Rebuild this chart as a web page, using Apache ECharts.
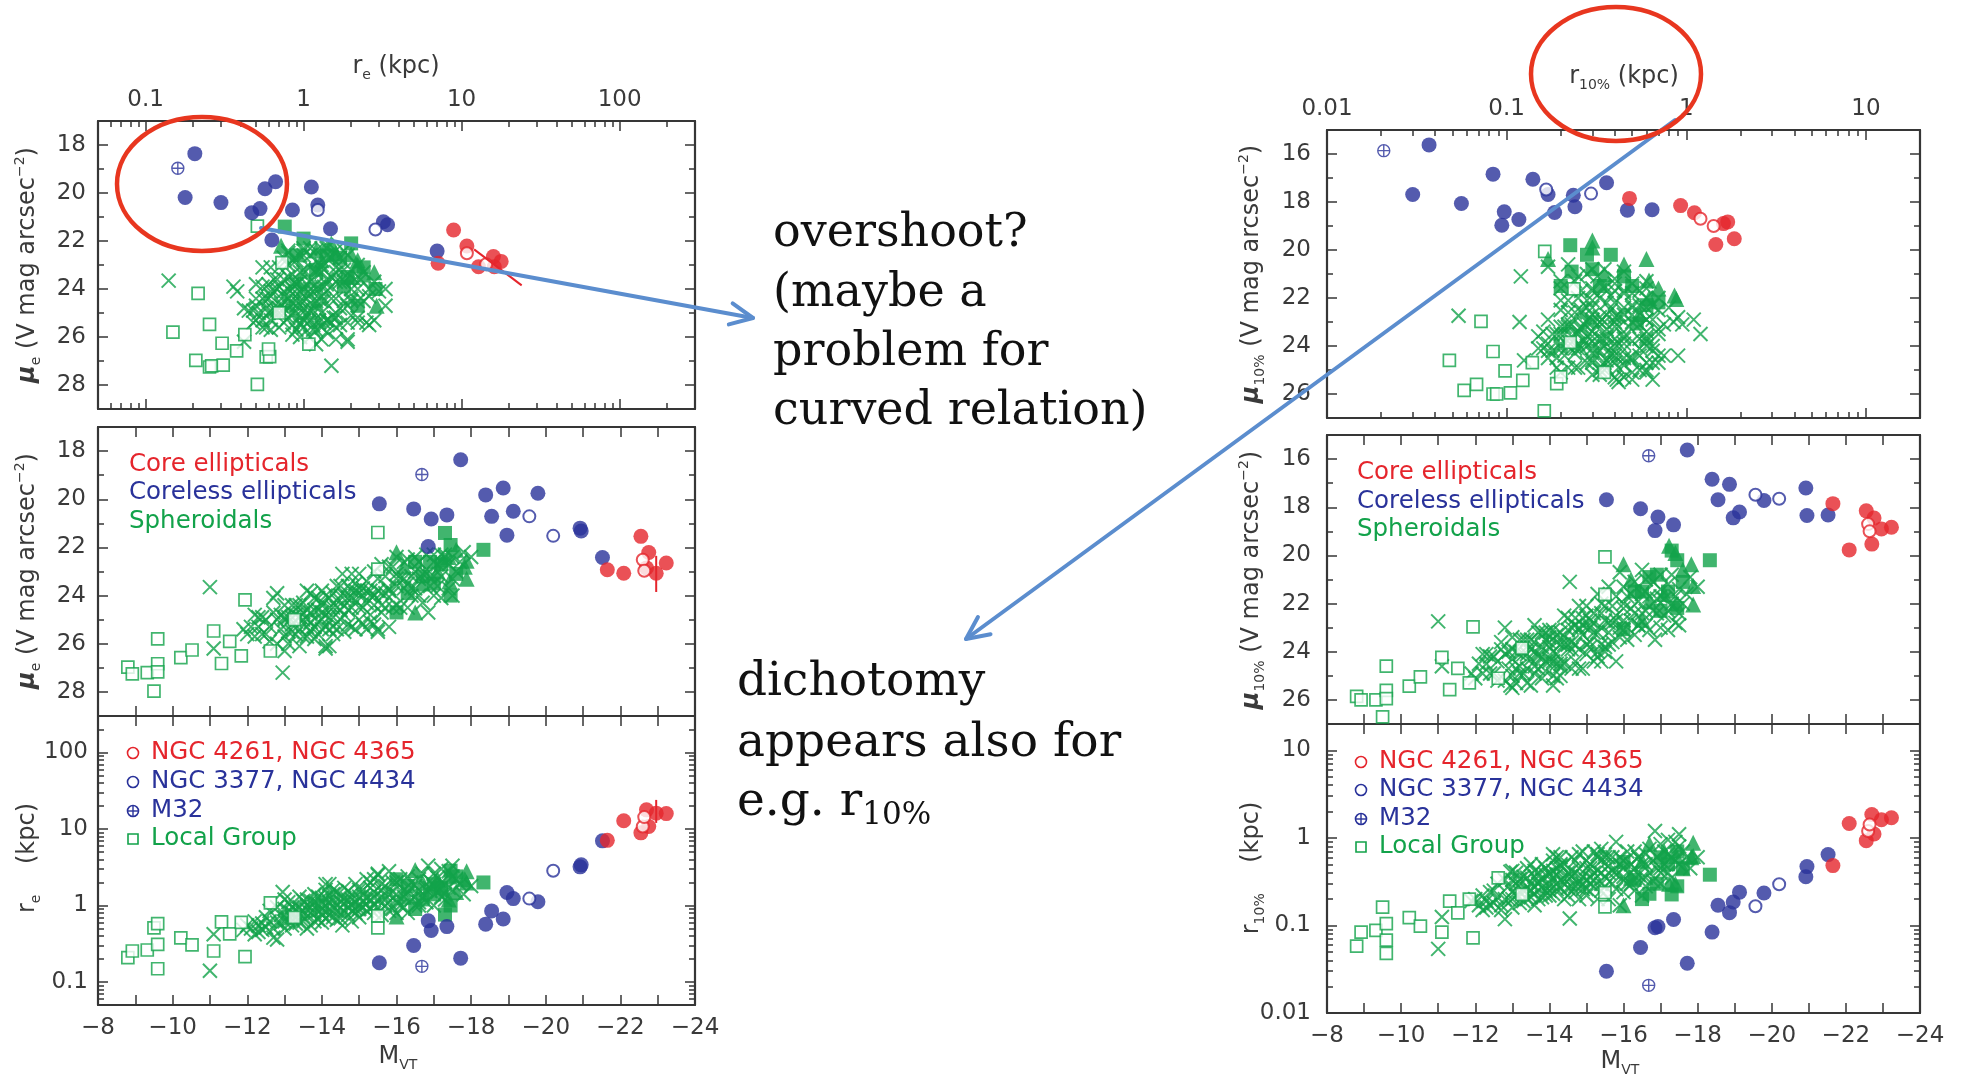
<!DOCTYPE html>
<html>
<head>
<meta charset="utf-8">
<title>Surface brightness and size scalings of ellipticals and spheroidals</title>
<script src="https://cdn.jsdelivr.net/npm/echarts@6.0.0/dist/echarts.min.js"></script>
<style>
  html, body { margin: 0; padding: 0; background: #ffffff; }
  #chart { width: 1963px; height: 1077px; }
</style>
</head>
<body>
<div id="chart"></div>
<script>
// ---------------------------------------------------------------------------
// Tick values
// ---------------------------------------------------------------------------
const reTicks   = [0.1, 1, 10, 100];
const r10Ticks  = [0.01, 0.1, 1, 10];
const mueTicks  = [18, 20, 22, 24, 26, 28];
const mu10Ticks = [16, 18, 20, 22, 24, 26];
const mvTicks   = [-24, -22, -20, -18, -16, -14, -12, -10, -8];

// ---------------------------------------------------------------------------
// Galaxy samples: absolute magnitude M_VT, effective radius r_e (kpc),
// surface brightness at r_e, radius enclosing 10% of light, and mu at r_10%
// ---------------------------------------------------------------------------

// Core ellipticals (filled red)
const coreMv   = [-21.65, -22.09, -22.55, -22.76, -22.96, -23.23, -22.70];
const coreRe   = [7.1, 12.8, 8.9, 10.8, 16.1, 15.9, 17.8];
const coreMue  = [22.93, 23.07, 21.54, 22.21, 23.07, 22.65, 22.85];
const coreR10  = [0.483, 1.46, 0.93, 1.11, 1.61, 1.70, 1.85];
const coreMu10 = [17.85, 19.77, 18.15, 18.45, 18.90, 18.83, 19.53];

// NGC 4261, NGC 4365 (open red)
const coreOpenMv   = [-22.60, -22.64];
const coreOpenRe   = [10.8, 14.3];
const coreOpenMue  = [22.51, 22.97];
const coreOpenR10  = [1.20, 1.42];
const coreOpenMu10 = [18.70, 19.00];

// Error bar on one core elliptical
const errMv  = [-22.96, -22.96];
const errRe  = [12, 24];
const errMue = [22.35, 23.85];

// Coreless ellipticals (filled navy)
const corelessMv   = [-15.54, -16.46, -16.85, -16.93, -17.35, -17.72, -18.39, -18.55,
                      -18.86, -18.96, -19.13, -19.79, -20.92, -20.95, -21.52];
const corelessRe   = [0.178, 0.30, 0.63, 0.47, 0.53, 0.205, 0.57, 0.85,
                      0.665, 1.48, 1.23, 1.12, 3.2, 3.4, 7.0];
const corelessMue  = [20.19, 20.40, 21.96, 20.82, 20.65, 18.36, 19.82, 20.71,
                      19.53, 21.49, 20.50, 19.75, 21.20, 21.32, 22.42];
const corelessR10  = [0.030, 0.056, 0.094, 0.097, 0.117, 0.037, 0.084, 0.17,
                      0.14, 0.185, 0.24, 0.235, 0.36, 0.47, 0.645];
const corelessMu10 = [17.69, 18.06, 18.97, 18.41, 18.73, 15.62, 16.84, 17.69,
                      17.05, 18.44, 18.20, 17.72, 17.20, 18.34, 18.32];

// NGC 3377, NGC 4434 (open navy)
const corelessOpenMv   = [-19.56, -20.20];
const corelessOpenRe   = [1.23, 2.85];
const corelessOpenMue  = [20.71, 21.52];
const corelessOpenR10  = [0.166, 0.295];
const corelessOpenMu10 = [17.48, 17.65];

// M32
const m32Mv   = [-16.68];
const m32Re   = [0.16];
const m32Mue  = [18.97];
const m32R10  = [0.0207];
const m32Mu10 = [15.86];

// Spheroidals, filled squares
const sphSqMv   = [-16.0, -16.3, -17.3, -17.45, -17.45, -18.33, -16.7, -17.2, -16.9, -17.6, -16.5, -17.0];
const sphSqRe   = [2.2, 1.8, 0.76, 1.0, 2.85, 2.0, 1.2, 1.7, 1.4, 2.4, 0.9, 1.9];
const sphSqMue  = [24.7, 23.9, 21.4, 21.9, 24.0, 22.1, 23.2, 22.7, 22.6, 23.1, 22.6, 23.5];
const sphSqR10  = [0.53, 0.33, 0.226, 0.28, 0.70, 0.38, 0.23, 0.50, 0.30, 0.45, 0.20, 0.60];
const sphSqMu10 = [23.06, 21.5, 19.8, 20.2, 22.18, 20.2, 20.9, 21.5, 20.8, 21.1, 21.5, 22.3];

// Spheroidals, filled triangles
const sphTriMv   = [-16.0, -16.5, -17.42, -17.88, -17.88, -17.83, -17.23, -16.7, -17.1, -17.6, -16.2, -17.4];
const sphTriRe   = [0.72, 2.9, 2.4, 2.8, 2.0, 2.2, 1.6, 2.0, 2.2, 1.5, 1.3, 1.2];
const sphTriMue  = [22.2, 24.7, 23.4, 23.3, 22.55, 22.8, 22.5, 23.5, 23.0, 22.1, 22.8, 22.4];
const sphTriR10  = [0.17, 0.55, 0.62, 0.88, 0.62, 0.60, 0.30, 0.86, 0.70, 0.45, 0.35, 0.30];
const sphTriMu10 = [20.37, 22.67, 22.0, 22.04, 21.27, 20.37, 19.6, 21.9, 21.6, 20.6, 21.0, 19.9];

// Spheroidals, crosses
const crossMv = [
  -11.9, -12.0, -12.1, -12.2, -12.3, -12.4, -12.5, -12.5, -12.7, -12.6,
  -12.8, -12.9, -12.95, -13.0, -13.0, -13.1, -13.1, -13.2, -13.2, -13.3,
  -13.3, -13.4, -13.4, -13.5, -13.5, -13.6, -13.6, -13.7, -13.7, -13.8,
  -13.8, -13.9, -13.9, -14.0, -14.0, -14.0, -14.1, -14.1, -14.2, -14.2,
  -14.3, -14.3, -14.4, -14.4, -14.5, -14.55, -14.6, -14.6, -14.7, -14.7,
  -14.8, -14.8, -14.9, -14.9, -15.0, -15.0, -15.1, -15.1, -15.2, -15.2,
  -15.3, -15.3, -15.4, -15.4, -15.5, -15.6, -15.6, -15.7, -15.8, -15.8,
  -15.9, -16.0, -16.0, -16.1, -16.2, -16.3, -16.3, -16.4, -16.5, -16.5,
  -16.6, -16.7, -16.85, -16.9, -17.0, -17.0, -17.1, -17.2, -17.3, -17.4,
  -17.5, -17.6, -17.8, -18.0, -11.0, -11.1, -17.5, -15.5, -14.1, -12.8,
  -13.0, -13.2, -13.4, -13.5, -13.6, -13.7, -13.8, -13.9, -14.0, -14.0,
  -14.1, -14.2, -14.3, -14.3, -14.4, -14.5, -14.5, -14.6, -14.7, -14.8,
  -14.9, -15.0, -15.0, -15.1, -15.2, -15.3, -15.4, -15.5, -15.6, -15.7,
  -15.8, -15.9, -16.0, -16.2, -16.4, -16.6, -16.8, -17.0, -17.3, -12.3,
  -12.2, -12.4, -12.6, -12.7, -12.8, -12.9, -13.0, -13.1, -13.2, -13.3,
  -13.4, -13.5, -13.6, -13.7, -13.8, -13.9, -14.0, -14.1, -14.2, -14.3,
  -14.4, -14.5, -14.6, -14.7, -14.8, -14.9, -15.0, -15.1, -15.2, -15.3,
  -15.4, -15.5, -15.6, -15.7, -15.8, -15.9, -16.0, -16.1, -16.2, -16.3,
  -16.4, -16.5, -16.6, -16.7, -16.8, -16.9, -17.0, -17.1, -17.2, -17.4,
  -17.5, -17.7, -13.0, -13.6, -14.2, -14.8, -15.4, -16.0, -16.6, -17.2
];
const crossRe = [
  0.48, 0.55, 0.50, 0.62, 0.45, 0.58, 0.70, 0.52, 0.38, 0.85,
  0.60, 0.75, 1.50, 0.50, 0.90, 0.65, 1.10, 0.80, 0.55, 1.00,
  0.70, 1.30, 0.60, 0.85, 1.15, 0.72, 1.20, 0.95, 0.55, 1.40,
  0.80, 1.05, 0.65, 1.25, 0.90, 0.60, 1.60, 1.00, 0.75, 1.35,
  0.95, 1.15, 0.65, 1.50, 1.10, 0.55, 0.85, 1.70, 1.20, 0.75,
  1.40, 1.00, 0.90, 1.90, 1.30, 0.70, 1.10, 1.60, 0.85, 2.20,
  1.20, 0.90, 1.50, 1.00, 2.50, 1.30, 0.75, 1.80, 1.10, 2.80,
  0.90, 1.40, 2.00, 1.00, 1.60, 2.40, 0.80, 1.20, 1.80, 1.00,
  2.20, 1.30, 3.30, 1.70, 1.00, 2.60, 1.50, 2.00, 1.20, 2.80,
  1.60, 2.20, 1.40, 1.80, 0.14, 0.42, 3.30, 2.60, 1.90, 0.36,
  0.70, 0.95, 0.78, 0.62, 1.00, 0.80, 1.10, 0.85, 1.05, 0.75,
  1.25, 0.90, 0.70, 1.40, 1.00, 0.80, 1.30, 1.05, 0.95, 1.20,
  0.80, 1.00, 1.60, 0.95, 1.30, 1.70, 0.80, 1.20, 1.60, 1.00,
  1.40, 2.00, 1.10, 1.30, 2.00, 1.10, 1.60, 1.80, 1.40, 0.55,
  0.42, 0.48, 0.62, 0.50, 0.95, 0.58, 0.62, 0.85, 0.68, 0.58,
  0.95, 0.72, 0.88, 1.15, 0.62, 1.30, 0.80, 0.68, 1.10, 1.60,
  0.85, 0.68, 1.25, 1.55, 0.85, 1.10, 0.90, 1.35, 1.05, 2.00,
  1.25, 0.95, 1.90, 1.35, 0.85, 1.50, 1.20, 2.20, 0.95, 1.50,
  1.70, 1.30, 1.60, 2.60, 1.10, 2.10, 1.40, 2.30, 1.30, 1.70,
  2.40, 1.90, 1.20, 0.50, 1.90, 0.62, 2.20, 0.80, 1.00, 3.00
];
const crossMue = [
  25.4, 25.6, 25.3, 25.7, 24.9, 25.6, 25.6, 25.0, 24.1, 25.9,
  25.0, 25.4, 27.2, 24.4, 25.7, 24.9, 26.0, 25.2, 24.4, 25.6,
  24.8, 26.1, 24.4, 25.0, 25.7, 24.6, 25.7, 25.1, 23.9, 25.8,
  24.6, 25.1, 24.1, 25.4, 24.7, 23.8, 26.1, 24.8, 24.1, 25.4,
  24.5, 24.9, 23.6, 25.4, 24.6, 23.1, 24.0, 25.5, 24.6, 23.6,
  25.3, 24.1, 23.8, 25.4, 24.5, 23.1, 24.0, 25.2, 23.4, 25.4,
  24.0, 23.8, 24.4, 24.0, 25.4, 23.9, 22.7, 24.5, 23.7, 25.3,
  22.8, 23.6, 24.4, 23.3, 23.7, 24.5, 22.5, 23.2, 23.7, 22.4,
  24.0, 23.1, 24.7, 23.2, 22.3, 24.0, 22.7, 23.2, 22.4, 23.7,
  22.4, 23.0, 22.2, 22.4, 23.65, 26.2, 24.0, 25.5, 26.2, 23.9,
  25.0, 25.5, 24.9, 24.3, 25.3, 24.7, 25.3, 24.6, 25.0, 24.3,
  25.3, 24.5, 23.9, 25.3, 24.5, 24.0, 25.0, 24.4, 24.1, 24.5,
  23.5, 23.9, 25.0, 23.7, 24.3, 24.8, 23.0, 23.8, 24.4, 23.2,
  23.8, 24.5, 23.1, 23.3, 24.0, 22.6, 23.1, 23.2, 22.3, 25.3,
  24.8, 24.9, 25.3, 24.7, 26.0, 24.8, 24.9, 25.5, 24.9, 24.4,
  25.4, 24.7, 25.0, 25.5, 24.1, 25.6, 24.4, 24.0, 24.9, 25.6,
  24.2, 23.6, 24.8, 25.2, 23.8, 24.2, 23.7, 24.5, 23.8, 25.1,
  24.0, 23.3, 24.7, 23.9, 22.8, 23.9, 23.3, 24.5, 22.6, 23.5,
  23.7, 23.0, 23.3, 24.3, 22.3, 23.6, 22.6, 23.6, 22.3, 22.7,
  23.3, 22.6, 26.3, 23.8, 26.1, 23.1, 25.2, 22.4, 22.6, 24.1
];
const crossR10 = [
  0.19, 0.20, 0.17, 0.22, 0.16, 0.24, 0.25, 0.18, 0.15, 0.30,
  0.20, 0.28, 0.41, 0.16, 0.33, 0.22, 0.40, 0.30, 0.18, 0.36,
  0.25, 0.45, 0.20, 0.30, 0.50, 0.23, 0.42, 0.32, 0.20, 0.50,
  0.27, 0.38, 0.22, 0.40, 0.30, 0.25, 0.55, 0.35, 0.26, 0.45,
  0.33, 0.60, 0.20, 0.50, 0.36, 0.12, 0.28, 0.60, 0.40, 0.24,
  0.65, 0.32, 0.30, 0.70, 0.45, 0.22, 0.35, 0.50, 0.28, 0.70,
  0.42, 0.20, 0.55, 0.30, 0.60, 0.40, 0.20, 0.60, 0.38, 0.90,
  0.17, 0.45, 0.55, 0.30, 0.50, 0.70, 0.25, 0.38, 0.50, 0.22,
  0.65, 0.40, 1.20, 0.45, 0.30, 0.85, 0.50, 0.65, 0.35, 0.90,
  0.50, 0.70, 0.45, 0.60, 0.054, 0.125, 1.10, 0.65, 0.65, 0.118,
  0.24, 0.34, 0.26, 0.21, 0.36, 0.30, 0.33, 0.25, 0.38, 0.22,
  0.42, 0.30, 0.26, 0.48, 0.34, 0.27, 0.40, 0.36, 0.28, 0.45,
  0.26, 0.33, 0.55, 0.30, 0.40, 0.60, 0.25, 0.36, 0.48, 0.30,
  0.42, 0.60, 0.33, 0.40, 0.60, 0.35, 0.55, 0.40, 0.60, 0.19,
  0.15, 0.17, 0.21, 0.17, 0.33, 0.20, 0.20, 0.30, 0.24, 0.19,
  0.35, 0.25, 0.28, 0.40, 0.21, 0.45, 0.28, 0.23, 0.38, 0.50,
  0.30, 0.22, 0.42, 0.55, 0.30, 0.36, 0.26, 0.45, 0.33, 0.65,
  0.40, 0.28, 0.60, 0.42, 0.26, 0.50, 0.36, 0.70, 0.30, 0.45,
  0.60, 0.35, 0.50, 0.75, 0.32, 0.60, 0.45, 0.70, 0.40, 0.55,
  0.80, 0.60, 0.42, 0.17, 0.60, 0.20, 0.75, 0.24, 0.28, 0.95
];
const crossMu10 = [
  24.9, 25.1, 24.5, 24.9, 24.1, 24.9, 24.9, 24.2, 23.6, 25.2,
  24.1, 24.7, 25.4, 23.4, 25.0, 24.0, 25.3, 24.6, 23.5, 24.9,
  24.1, 25.3, 23.5, 24.3, 25.4, 23.6, 24.9, 24.2, 23.2, 25.1,
  23.8, 24.4, 23.2, 24.4, 23.8, 23.4, 25.0, 24.0, 23.3, 24.5,
  23.7, 25.0, 22.5, 24.5, 23.7, 21.1, 23.0, 24.7, 23.7, 22.6,
  24.7, 23.1, 22.9, 24.7, 23.7, 22.1, 23.0, 23.8, 22.4, 24.4,
  23.2, 21.6, 23.7, 22.4, 23.8, 22.8, 21.3, 23.6, 22.5, 24.4,
  20.7, 22.7, 23.1, 21.7, 22.7, 23.3, 21.1, 21.9, 22.4, 20.6,
  22.9, 21.7, 23.5, 21.8, 20.8, 23.0, 21.8, 22.3, 20.8, 22.8,
  21.4, 22.0, 20.9, 21.3, 22.74, 24.6, 22.9, 24.0, 25.4, 23.0,
  24.3, 24.9, 24.1, 23.5, 24.6, 24.1, 24.2, 23.5, 24.3, 23.1,
  24.4, 23.6, 23.2, 24.5, 23.7, 23.1, 23.9, 23.6, 22.9, 23.9,
  22.6, 23.0, 24.1, 22.7, 23.2, 24.0, 22.0, 22.7, 23.2, 22.1,
  22.7, 23.4, 22.0, 22.2, 22.9, 21.5, 22.3, 21.4, 22.0, 24.5,
  24.1, 24.2, 24.4, 23.9, 25.2, 24.0, 23.9, 24.7, 24.1, 23.5,
  24.7, 23.9, 24.0, 24.7, 23.2, 24.8, 23.6, 23.1, 24.1, 24.6,
  23.4, 22.6, 23.9, 24.4, 23.0, 23.3, 22.5, 23.6, 22.8, 24.2,
  23.0, 22.1, 23.7, 22.8, 21.7, 23.0, 22.2, 23.5, 21.6, 22.4,
  22.9, 21.6, 22.3, 23.1, 21.1, 22.4, 21.7, 22.5, 21.2, 21.7,
  22.4, 21.6, 25.5, 22.9, 25.1, 22.1, 24.4, 21.3, 21.0, 23.1
];

// Local Group dwarfs (open green squares)
const lgMv   = [-8.80, -8.92, -9.32, -9.50, -9.60, -9.60, -9.60, -10.22, -10.52,
                -11.10, -11.31, -11.53, -11.84, -11.94, -12.62, -13.26, -15.50, -15.50];
const lgRe   = [0.208, 0.254, 0.262, 0.51, 0.149, 0.58, 0.31, 0.377, 0.305,
                0.254, 0.61, 0.425, 0.60, 0.215, 1.08, 0.70, 0.51, 0.73];
const lgMue  = [26.97, 27.25, 27.20, 27.97, 25.80, 26.83, 27.17, 26.58, 26.26,
                25.47, 26.82, 25.90, 26.50, 24.18, 26.30, 25.00, 21.38, 22.90];
const lgR10  = [0.058, 0.084, 0.088, 0.162, 0.048, 0.068, 0.105, 0.123, 0.098,
                0.084, 0.19, 0.139, 0.20, 0.072, 0.35, 0.226, 0.163, 0.237];
const lgMu10 = [25.85, 26.00, 26.00, 26.70, 24.60, 25.60, 25.95, 25.43, 25.04,
                24.23, 25.57, 24.69, 25.29, 22.97, 25.10, 23.85, 20.06, 21.62];

// ---------------------------------------------------------------------------
// Styling
// ---------------------------------------------------------------------------
const FRAME = '#363636';
const TXT   = '#3a3a3a';
const RED   = '#e5252c';
const NAVY  = '#29329a';
const GREEN = '#12a24a';
const ARROW = '#5b8dce';
const RING  = '#e8361f';
const SANS  = "'DejaVu Sans', 'Liberation Sans', sans-serif";
const SERIF = "'DejaVu Serif', 'Liberation Serif', serif";

function logMinorTicks(lo, hi) {
  const out = [];
  for (let e = Math.floor(Math.log10(lo)); e <= Math.ceil(Math.log10(hi)); e++) {
    for (let k = 2; k <= 9; k++) {
      const v = +(k * Math.pow(10, e)).toPrecision(6);
      if (v > lo && v < hi) out.push(v);
    }
  }
  return out;
}
function stepTicks(lo, hi, step) {
  const out = [];
  for (let v = lo; v <= hi + 1e-9; v += step) out.push(v);
  return out;
}
const fmtLog = v => (v >= 1 ? String(Math.round(v)) : String(Number((+v).toPrecision(1))));
const fmtMag = v => (v < 0 ? '\u2212' + Math.abs(v) : String(v));

const scales = {
  re:   { type: 'log',   min: 0.05, max: 300, ticks: reTicks,  labels: reTicks,  minor: logMinorTicks(0.05, 300), fmt: fmtLog },
  r10:  { type: 'log',   min: 0.01, max: 20,  ticks: r10Ticks, labels: r10Ticks, minor: logMinorTicks(0.01, 20),  fmt: fmtLog },
  mue:  { type: 'value', min: 17, max: 29, inverse: true, ticks: mueTicks,  labels: mueTicks,  minor: stepTicks(19, 27, 2), fmt: String },
  mu10: { type: 'value', min: 15, max: 27, inverse: true, ticks: mu10Ticks, labels: mu10Ticks, minor: stepTicks(17, 25, 2), fmt: String },
  M:    { type: 'value', min: -24, max: -8, inverse: true, ticks: stepTicks(-24, -8, 1), labels: mvTicks, minor: null, fmt: fmtMag }
};

const panels = [
  { grid: { left: 98,   top: 121, width: 597, height: 288 }, x: 're',  y: 'mue',  xLab: 'top',    yMargin: 12 },
  { grid: { left: 98,   top: 427, width: 597, height: 289 }, x: 'M',   y: 'mue',  xLab: null,     yMargin: 12 },
  { grid: { left: 98,   top: 716, width: 597, height: 289 }, x: 'M',   y: 're',   xLab: 'bottom', yMargin: 10 },
  { grid: { left: 1327, top: 130, width: 593, height: 288 }, x: 'r10', y: 'mu10', xLab: 'top',    yMargin: 16 },
  { grid: { left: 1327, top: 435, width: 593, height: 289 }, x: 'M',   y: 'mu10', xLab: null,     yMargin: 16 },
  { grid: { left: 1327, top: 724, width: 593, height: 289 }, x: 'M',   y: 'r10',  xLab: 'bottom', yMargin: 16 }
];

function makeAxis(gi, pos, s, o) {
  const ax = {
    gridIndex: gi, position: pos, type: s.type, min: s.min, max: s.max, inverse: !!s.inverse,
    silent: true,
    splitLine: { show: false }, splitArea: { show: false },
    axisPointer: { show: false },
    axisLine: { show: o.line, onZero: false, lineStyle: { color: FRAME, width: 2.2 } },
    axisTick: { show: true, inside: true, length: o.len, customValues: o.ticks,
                lineStyle: { color: FRAME, width: 1.5 } },
    axisLabel: o.labels ? {
      show: true, customValues: o.labels, formatter: s.fmt, margin: o.margin,
      showMinLabel: true, showMaxLabel: true,
      color: TXT, fontFamily: SANS, fontSize: 23
    } : { show: false }
  };
  if (s.type === 'log') ax.logBase = 10;
  return ax;
}

const xAxes = [], yAxes = [];
panels.forEach((p, gi) => {
  const sx = scales[p.x], sy = scales[p.y];
  p.xi = xAxes.length;
  ['bottom', 'top'].forEach(pos => {
    xAxes.push(makeAxis(gi, pos, sx, { line: true, ticks: sx.ticks, len: 10,
      labels: p.xLab === pos ? sx.labels : null, margin: pos === 'top' ? 9 : 12 }));
    if (sx.minor) xAxes.push(makeAxis(gi, pos, sx, { line: false, ticks: sx.minor, len: 6 }));
  });
  p.yi = yAxes.length;
  ['left', 'right'].forEach(pos => {
    yAxes.push(makeAxis(gi, pos, sy, { line: true, ticks: sy.ticks, len: 10,
      labels: pos === 'left' ? sy.labels : null, margin: p.yMargin }));
    if (sy.minor) yAxes.push(makeAxis(gi, pos, sy, { line: false, ticks: sy.minor, len: 6 }));
  });
});

// ---------------------------------------------------------------------------
// Series
// ---------------------------------------------------------------------------
const CROSS = 'path://M0,0L10,10M10,0L0,10';
const PLUSRING = 'path://M10,0A10,10,0,1,1,-10,0A10,10,0,1,1,10,0ZM-10,0L10,0M0,-10L0,10';

const groups = [
  { d: { M: crossMv, re: crossRe, mue: crossMue, r10: crossR10, mu10: crossMu10 },
    s: { symbol: CROSS, symbolSize: 14, itemStyle: { color: 'rgba(0,0,0,0)', borderColor: GREEN, borderWidth: 2 } } },
  { d: { M: lgMv, re: lgRe, mue: lgMue, r10: lgR10, mu10: lgMu10 },
    s: { symbol: 'rect', symbolSize: 12, itemStyle: { color: '#ffffff', borderColor: GREEN, borderWidth: 1.7 } } },
  { d: { M: sphSqMv, re: sphSqRe, mue: sphSqMue, r10: sphSqR10, mu10: sphSqMu10 },
    s: { symbol: 'rect', symbolSize: 14, itemStyle: { color: GREEN } } },
  { d: { M: sphTriMv, re: sphTriRe, mue: sphTriMue, r10: sphTriR10, mu10: sphTriMu10 },
    s: { symbol: 'triangle', symbolSize: 16, itemStyle: { color: GREEN } } },
  { d: { M: m32Mv, re: m32Re, mue: m32Mue, r10: m32R10, mu10: m32Mu10 },
    s: { symbol: PLUSRING, symbolSize: 12, itemStyle: { color: '#ffffff', borderColor: NAVY, borderWidth: 1.4 } } },
  { d: { M: corelessMv, re: corelessRe, mue: corelessMue, r10: corelessR10, mu10: corelessMu10 },
    s: { symbol: 'circle', symbolSize: 15, itemStyle: { color: NAVY } } },
  { d: { M: corelessOpenMv, re: corelessOpenRe, mue: corelessOpenMue, r10: corelessOpenR10, mu10: corelessOpenMu10 },
    s: { symbol: 'circle', symbolSize: 12, itemStyle: { color: '#ffffff', borderColor: NAVY, borderWidth: 2 } } },
  { d: { M: coreMv, re: coreRe, mue: coreMue, r10: coreR10, mu10: coreMu10 },
    s: { symbol: 'circle', symbolSize: 15, itemStyle: { color: RED } } },
  { d: { M: coreOpenMv, re: coreOpenRe, mue: coreOpenMue, r10: coreOpenR10, mu10: coreOpenMu10 },
    s: { symbol: 'circle', symbolSize: 12, itemStyle: { color: '#ffffff', borderColor: RED, borderWidth: 2 } } }
];

const series = [];
panels.forEach(p => {
  groups.forEach(g => {
    const xs = g.d[p.x], ys = g.d[p.y];
    series.push(Object.assign({
      type: 'scatter', xAxisIndex: p.xi, yAxisIndex: p.yi, silent: true,
      data: xs.map((v, i) => [v, ys[i]])
    }, g.s));
  });
});
// error bar of one core galaxy (left-hand panels)
const errBar = { M: errMv, re: errRe, mue: errMue };
panels.slice(0, 3).forEach(p => {
  series.push({
    type: 'line', xAxisIndex: p.xi, yAxisIndex: p.yi, silent: true, symbol: 'none',
    lineStyle: { color: RED, width: 2 },
    data: [0, 1].map(i => [errBar[p.x][i], errBar[p.y][i]])
  });
});

// ---------------------------------------------------------------------------
// Titles, legends and annotations
// ---------------------------------------------------------------------------
const graphics = [];
function rich(size, sub) {
  const base = { fontFamily: SANS, fontSize: size, fill: TXT, lineHeight: 30 };
  return {
    t: base,
    it: Object.assign({}, base, { fontStyle: 'italic', fontWeight: 'bold' }),
    sub: { fontFamily: SANS, fontSize: sub, fill: TXT, lineHeight: sub, verticalAlign: 'bottom' },
    sup: { fontFamily: SANS, fontSize: sub, fill: TXT, lineHeight: sub, verticalAlign: 'top' }
  };
}
function label(x, y, text, opt) {
  opt = opt || {};
  graphics.push({
    type: 'text', x, y, rotation: opt.rot || 0, z: 100, silent: true,
    style: {
      text, rich: opt.rich, fill: opt.fill || TXT,
      fontFamily: opt.family || SANS, fontSize: opt.size || 23,
      align: opt.align || 'center', verticalAlign: 'middle'
    }
  });
}

// axis titles
const R = rich(24, 14);
label(396, 67,  '{t|r}{sub|e}{t| (kpc)}', { rich: R });
label(1624, 77, '{t|r}{sub|10%}{t| (kpc)}', { rich: R });
label(398, 1057,  '{t|M}{sub|VT}', { rich: R });
label(1620, 1062, '{t|M}{sub|VT}', { rich: R });
label(28, 265, '{it|\u03bc}{sub|e}{t| (V mag arcsec}{sup|\u22122}{t|)}', { rich: R, rot: Math.PI / 2 });
label(28, 571, '{it|\u03bc}{sub|e}{t| (V mag arcsec}{sup|\u22122}{t|)}', { rich: R, rot: Math.PI / 2 });
label(28, 858, '{t|r}{sub|e}{t|    (kpc)}', { rich: R, rot: Math.PI / 2 });
label(1252, 274, '{it|\u03bc}{sub|10%}{t| (V mag arcsec}{sup|\u22122}{t|)}', { rich: R, rot: Math.PI / 2 });
label(1252, 580, '{it|\u03bc}{sub|10%}{t| (V mag arcsec}{sup|\u22122}{t|)}', { rich: R, rot: Math.PI / 2 });
label(1252, 868, '{t|r}{sub|10%}{t|    (kpc)}', { rich: R, rot: Math.PI / 2 });

// class legends in the middle panels
const classNames = [['Core ellipticals', RED], ['Coreless ellipticals', NAVY], ['Spheroidals', GREEN]];
[[129, [465, 493, 522]], [1357, [473, 502, 530]]].forEach(([x, ys]) => {
  classNames.forEach(([name, col], i) => label(x, ys[i], name, { fill: col, align: 'left', size: 24.5 }));
});

// symbol legends in the bottom panels
const symbolNames = [
  ['NGC 4261, NGC 4365', RED, 'ring'],
  ['NGC 3377, NGC 4434', NAVY, 'ring'],
  ['M32', NAVY, 'plus'],
  ['Local Group', GREEN, 'box']
];
[[133, 151, [753, 782, 811, 839]], [1361, 1379, [762, 790, 819, 847]]].forEach(([mx, tx, ys]) => {
  symbolNames.forEach(([name, col, mark], i) => {
    const y = ys[i];
    const st = { fill: '#ffffff', stroke: col, lineWidth: 1.6 };
    if (mark === 'box') {
      graphics.push({ type: 'rect', z: 100, silent: true, shape: { x: mx - 5, y: y - 5, width: 10, height: 10 }, style: st });
    } else {
      graphics.push({ type: 'circle', z: 100, silent: true, shape: { cx: mx, cy: y, r: 5.5 }, style: st });
      if (mark === 'plus') {
        graphics.push({ type: 'line', z: 101, silent: true, shape: { x1: mx - 5.5, y1: y, x2: mx + 5.5, y2: y }, style: { stroke: col, lineWidth: 1.4 } });
        graphics.push({ type: 'line', z: 101, silent: true, shape: { x1: mx, y1: y - 5.5, x2: mx, y2: y + 5.5 }, style: { stroke: col, lineWidth: 1.4 } });
      }
    }
    label(tx, y, name, { fill: col, align: 'left', size: 24.5 });
  });
});

// commentary text
const SR = { fontFamily: SERIF, fontSize: 46, fill: '#111111' };
['overshoot?', '(maybe a', 'problem for', 'curved relation)'].forEach((t, i) => {
  label(773, [234, 294, 353, 412][i], t, { family: SERIF, size: 46, fill: '#111111', align: 'left' });
});
label(737, 683, 'dichotomy', { family: SERIF, size: 47, fill: '#111111', align: 'left' });
label(737, 744, 'appears also for', { family: SERIF, size: 47, fill: '#111111', align: 'left' });
label(737, 803, '{n|e.g. r}{s|10%}', {
  align: 'left', fill: '#111111',
  rich: {
    n: Object.assign({}, SR, { fontSize: 47, lineHeight: 56 }),
    s: Object.assign({}, SR, { fontSize: 31, lineHeight: 24, verticalAlign: 'bottom' })
  }
});

// arrows
function arrow(x1, y1, x2, y2) {
  const a = Math.atan2(y2 - y1, x2 - x1), len = 25, spread = 0.44;
  const st = { stroke: ARROW, lineWidth: 4, lineCap: 'round', lineJoin: 'round', fill: null };
  graphics.push({ type: 'line', z: 110, silent: true, shape: { x1, y1, x2, y2 }, style: st });
  graphics.push({
    type: 'polyline', z: 110, silent: true, style: st,
    shape: { points: [
      [x2 - len * Math.cos(a - spread), y2 - len * Math.sin(a - spread)],
      [x2, y2],
      [x2 - len * Math.cos(a + spread), y2 - len * Math.sin(a + spread)]
    ] }
  });
}
arrow(261, 228, 753, 318);
arrow(1675, 120, 966, 639);

// highlight rings
[[202, 184], [1616, 74]].forEach(([cx, cy]) => {
  graphics.push({ type: 'ellipse', z: 120, silent: true, shape: { cx, cy, rx: 85, ry: 67 },
    style: { fill: null, stroke: RING, lineWidth: 4.5 } });
});

// ---------------------------------------------------------------------------
const chart = echarts.init(document.getElementById('chart'), null, { renderer: 'canvas' });
chart.setOption({
  animation: false,
  backgroundColor: '#ffffff',
  grid: panels.map(p => Object.assign({ containLabel: false, outerBoundsMode: 'none', show: false }, p.grid)),
  xAxis: xAxes,
  yAxis: yAxes,
  series,
  graphic: { elements: graphics }
});
</script>
</body>
</html>
